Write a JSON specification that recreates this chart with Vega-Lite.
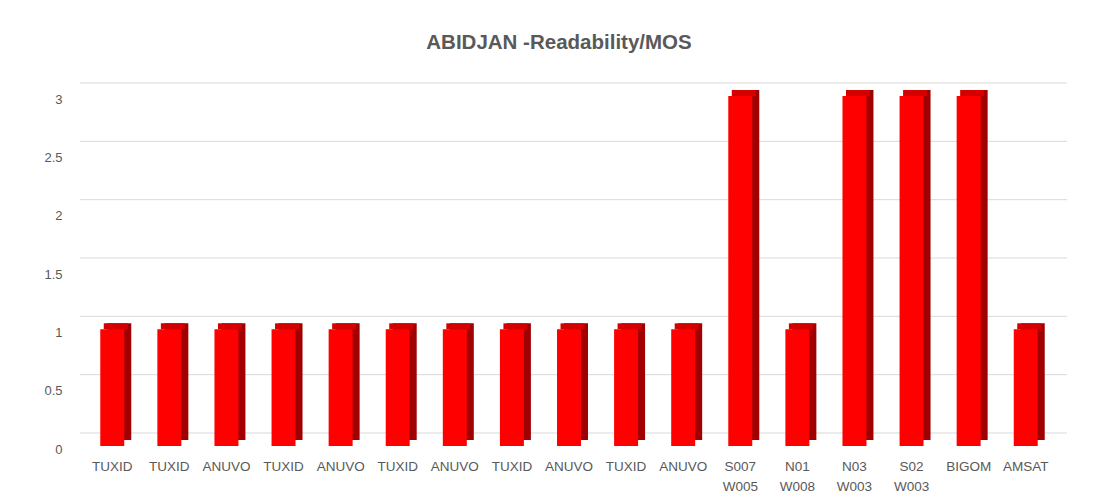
{
  "$schema": "https://vega.github.io/schema/vega-lite/v6.json",
  "autosize": {"type": "none"},
  "padding": {"left": 80, "top": 96, "right": 39, "bottom": 56},
  "width": 978,
  "height": 350,
  "background": "white",
  "config": {"view": {"stroke": null}},
  "title": {"text": "ABIDJAN -Readability/MOS", "fontSize": 20.5, "fontWeight": "bold", "color": "#595959", "font": "Liberation Sans", "anchor": "middle", "frame": "group", "offset": 29, "dx": -10},
  "datasets": {
    "bars": [
      {"site": "TUXID#1", "mos": 1},
      {"site": "TUXID#2", "mos": 1},
      {"site": "ANUVO#1", "mos": 1},
      {"site": "TUXID#3", "mos": 1},
      {"site": "ANUVO#2", "mos": 1},
      {"site": "TUXID#4", "mos": 1},
      {"site": "ANUVO#3", "mos": 1},
      {"site": "TUXID#5", "mos": 1},
      {"site": "ANUVO#4", "mos": 1},
      {"site": "TUXID#6", "mos": 1},
      {"site": "ANUVO#5", "mos": 1},
      {"site": "S007 W005", "mos": 3},
      {"site": "N01 W008", "mos": 1},
      {"site": "N03 W003", "mos": 3},
      {"site": "S02 W003", "mos": 3},
      {"site": "BIGOM", "mos": 3},
      {"site": "AMSAT", "mos": 1}
    ],
    "grid": [{"g": 0}, {"g": 0.5}, {"g": 1}, {"g": 1.5}, {"g": 2}, {"g": 2.5}, {"g": 3}]
  },
  "layer": [
    {
      "data": {"name": "grid"},
      "mark": {"type": "rule", "color": "#d9d9d9", "strokeWidth": 1, "xOffset": 9, "yOffset": -13},
      "encoding": {
        "y": {"field": "g", "type": "quantitative", "scale": {"domain": [0, 3]}, "title": null,
          "axis": {"values": [0, 0.5, 1, 1.5, 2, 2.5, 3], "format": "~g", "domain": false, "ticks": false, "grid": false, "labelPadding": 18, "labelFontSize": 13, "labelFont": "Liberation Sans", "labelColor": "#595959", "labelOffset": 3}}
      }
    },
    {
      "data": {"name": "bars"},
      "mark": {"type": "bar", "color": "#A00000", "xOffset": 7, "yOffset": -6, "y2Offset": -6},
      "encoding": {
        "x": {"field": "site", "type": "nominal", "sort": null, "scale": {"paddingInner": 0.58, "paddingOuter": 0.355}, "title": null,
          "axis": {"labelExpr": "split(split(datum.value, '#')[0], ' ')", "labelAngle": 0, "domain": false, "ticks": false, "labelPadding": 13, "labelFontSize": 13.5, "labelFont": "Liberation Sans", "labelColor": "#595959", "labelLineHeight": 20}},
        "y": {"field": "mos", "type": "quantitative", "title": null}
      }
    },
    {
      "data": {"name": "bars"},
      "mark": {"type": "bar", "color": "#D40000", "xOffset": 3.5, "yOffset": -6, "y2Offset": 0},
      "encoding": {
        "x": {"field": "site", "type": "nominal", "sort": null},
        "y": {"field": "mos", "type": "quantitative"},
        "y2": {"field": "mos"}
      }
    },
    {
      "data": {"name": "bars"},
      "mark": {"type": "bar", "color": "#FF0000"},
      "encoding": {
        "x": {"field": "site", "type": "nominal", "sort": null},
        "y": {"field": "mos", "type": "quantitative"}
      }
    }
  ]
}
